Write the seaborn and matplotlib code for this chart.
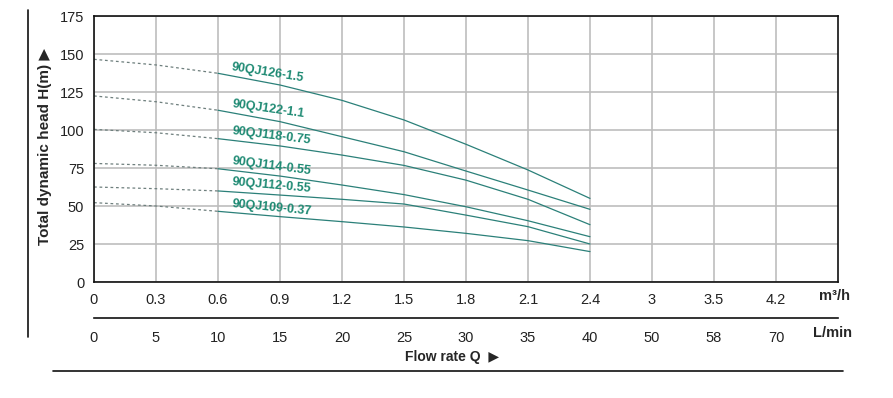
import numpy as np
import pandas as pd
import matplotlib
matplotlib.use("Agg")
import matplotlib.pyplot as plt
import seaborn as sns
from matplotlib.lines import Line2D

sns.set_style("white")
plt.rcParams["font.family"] = ["Liberation Sans", "DejaVu Sans"]

# -------------------------------
# Data
# -------------------------------
flow_m3h = [0, 0.3, 0.6, 0.9, 1.2, 1.5, 1.8, 2.1, 2.4]
models = ["90QJ126-1.5", "90QJ122-1.1", "90QJ118-0.75",
          "90QJ114-0.55", "90QJ112-0.55", "90QJ109-0.37"]
head_126 = [146.5, 142.8, 137.3, 129.6, 119.5, 106.6, 90.6, 73.7, 55.0]
head_122 = [122.4, 118.6, 113.0, 105.5, 95.6, 85.7, 73.0, 60.5, 47.8]
head_118 = [100.4, 98.2, 94.3, 89.5, 83.5, 76.7, 67.0, 54.4, 37.7]
head_114 = [78.0, 76.8, 74.5, 69.7, 63.8, 57.5, 49.5, 40.3, 29.8]
head_112 = [62.5, 61.4, 59.9, 57.2, 54.4, 51.3, 44.0, 36.4, 25.0]
head_109 = [52.2, 50.0, 46.5, 43.0, 39.7, 36.2, 32.0, 27.2, 20.0]
heads = [head_126, head_122, head_118, head_114, head_112, head_109]

# axis tick labels (evenly spaced on the chart)
m3h_labels = ["0", "0.3", "0.6", "0.9", "1.2", "1.5", "1.8", "2.1", "2.4", "3", "3.5", "4.2"]
lmin_labels = ["0", "5", "10", "15", "20", "25", "30", "35", "40", "50", "58", "70"]
y_ticks = [0, 25, 50, 75, 100, 125, 150, 175]

# label anchors / rotations for the curve names
label_q = 0.668
label_h = [141.5, 117.0, 99.3, 79.3, 65.8, 51.5]
label_rot = [-9, -8, -7, -7.5, -5, -5.5]

rows = []
for name, h in zip(models, heads):
    for q, v in zip(flow_m3h, h):
        rows.append({"model": name, "Q": q, "H": v})
df = pd.DataFrame(rows)
solid = df[df["Q"] >= 0.6]
dashed = df[df["Q"] <= 0.6]

line_col = "#2b8079"
text_col = "#1e8a73"
tick_fs = 10.5

fig = plt.figure(figsize=(8.93, 3.98), dpi=100)
L, R, B, T = 94 / 893, 838 / 893, 1 - 282 / 398, 1 - 16 / 398
ax = fig.add_axes([L, B, R - L, T - B])

sns.lineplot(data=solid, x="Q", y="H", units="model", estimator=None,
             color=line_col, lw=0.9, ax=ax)
sns.lineplot(data=dashed, x="Q", y="H", units="model", estimator=None,
             color="#6e7f7d", lw=0.9, dashes=False, ax=ax)
for ln in ax.lines[len(models):]:
    ln.set_dashes((2.2, 2.2))

for name, h, r in zip(models, label_h, label_rot):
    ax.text(label_q, h, name, color=text_col, fontsize=9, fontweight="bold",
            rotation=r, rotation_mode="anchor", ha="left", va="center")

step = 0.3
xt = [i * step for i in range(len(m3h_labels))]
ax.set_xlim(0, len(m3h_labels) * step)
ax.set_ylim(0, 175)
ax.set_xticks(xt)
ax.set_xticklabels(m3h_labels)
ax.set_yticks(y_ticks)
ax.grid(True, color="#bdbdbd", lw=1.2)
ax.tick_params(length=0, labelsize=tick_fs, colors="#222222")
ax.tick_params(axis="x", pad=8)
ax.tick_params(axis="y", pad=7)
ax.set_xlabel("")
ax.set_ylabel("")
for s in ax.spines.values():
    s.set_visible(True)
    s.set_color("#111111")
    s.set_linewidth(1.2)

# second flow axis in L/min
ax2 = fig.add_axes([L, 1 - 318 / 398, R - L, 0.001])
ax2.set_xlim(0, len(m3h_labels) * step)
ax2.set_xticks(xt)
ax2.set_xticklabels(lmin_labels)
ax2.set_yticks([])
for k in ["top", "left", "right"]:
    ax2.spines[k].set_visible(False)
ax2.spines["bottom"].set_color("#111111")
ax2.spines["bottom"].set_linewidth(1.2)
ax2.tick_params(axis="x", direction="out", length=6, width=1, labelsize=tick_fs,
                colors="#222222", pad=3)
ax2.patch.set_visible(False)

fig.text(835 / 893, 1 - 296 / 398, "m³/h", fontsize=10.5, fontweight="bold",
         ha="center", va="center")
fig.text(832 / 893, 1 - 333 / 398, "L/min", fontsize=10.5, fontweight="bold",
         ha="center", va="center")
fig.text(452 / 893, 1 - 357 / 398, "Flow rate Q  ▶", fontsize=10, fontweight="bold",
         ha="center", va="center")
fig.text(45 / 893, 1 - 146 / 398, "Total dynamic head H(m) ▶", fontsize=11,
         fontweight="bold", ha="center", va="center", rotation=90)

# frame lines
fig.add_artist(Line2D([28 / 893, 28 / 893], [1 - 10 / 398, 1 - 337 / 398],
                      color="#111111", lw=1.2))
fig.add_artist(Line2D([53 / 893, 843 / 893], [1 - 371 / 398, 1 - 371 / 398],
                      color="#111111", lw=1.2))

fig.savefig("out.png", dpi=100)
